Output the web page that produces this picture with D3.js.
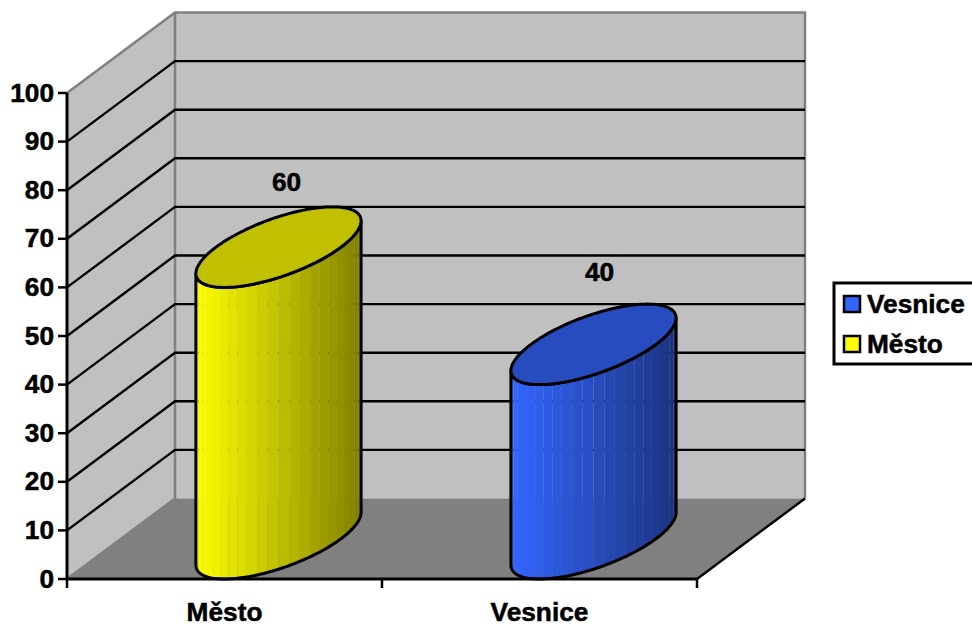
<!DOCTYPE html>
<html>
<head>
<meta charset="utf-8">
<script src="https://cdn.jsdelivr.net/npm/d3@7"></script>
<style>
  html, body { margin: 0; padding: 0; background: #fff; }
  svg { display: block; }
  text { font-family: "Liberation Sans", Arial, sans-serif; font-weight: bold; fill: #000; stroke: #000; stroke-width: 0.5px; }
</style>
</head>
<body>
<svg id="chart" width="972" height="625"></svg>
<script>
// Chart content
const categories = ["Město", "Vesnice"];
const values = [60, 40];
const legendOrder = ["Vesnice", "Město"];
const yTicks = [0, 10, 20, 30, 40, 50, 60, 70, 80, 90, 100];
const faceColors = { "Město": ["#ffff00", "#808000", "#c0c000"], "Vesnice": ["#3366ff", "#1a3380", "#264cbf"] };

const svg = d3.select("#chart");
const x = d3.scaleBand().domain(categories).range([67, 697]);
const y = d3.scaleLinear().domain([0, 100]).range([579, 93]);
// Oblique projection: the depth axis runs up and to the right.
const depth = { dx: 108, dy: -80.5 };
const barWidth = 125;
const textStretch = 1.05;
const fontSize = 25;
// Value labels sit a little differently above each cylinder
const labelShift = { "Město": [8, -16], "Vesnice": [6, -23] };

const path = d3.line();
const [x0, x1] = x.range();
const [y0, y1] = y.range();

function stretchedText(sel, px, py, anchor) {
  return sel.attr("text-anchor", anchor).attr("font-size", fontSize)
    .attr("transform", `translate(${px},${py}) scale(${textStretch},1)`);
}

// Walls and floor
svg.append("path").attr("fill", "#c0c0c0")
  .attr("d", path([[x0, y0], [x0, y1], [x0 + depth.dx, y1 + depth.dy], [x0 + depth.dx, y0 + depth.dy]]) + "Z");
svg.append("rect").attr("fill", "#c0c0c0")
  .attr("x", x0 + depth.dx).attr("y", y1 + depth.dy)
  .attr("width", x1 - x0).attr("height", y0 - y1);
svg.append("path").attr("fill", "#808080")
  .attr("d", path([[x0, y0], [x1, y0], [x1 + depth.dx, y0 + depth.dy], [x0 + depth.dx, y0 + depth.dy]]) + "Z");

// Grey wall edges
svg.append("path").attr("fill", "none").attr("stroke", "#808080").attr("stroke-width", 2.5)
  .attr("d", path([[x0, y1], [x0 + depth.dx, y1 + depth.dy], [x1 + depth.dx, y1 + depth.dy], [x1 + depth.dx, y0 + depth.dy]]));
svg.append("path").attr("fill", "none").attr("stroke", "#808080").attr("stroke-width", 2.5)
  .attr("d", path([[x0, y0], [x0 + depth.dx, y0 + depth.dy], [x0 + depth.dx, y1 + depth.dy]]));

// Gridlines across the side and back walls
svg.append("g").selectAll("path").data(yTicks.filter(t => t > 0 && t < 100)).join("path")
  .attr("fill", "none").attr("stroke", "#000").attr("stroke-width", 2.4)
  .attr("d", t => path([[x0, y(t)], [x0 + depth.dx, y(t) + depth.dy], [x1 + depth.dx, y(t) + depth.dy]]));

// Floor front-right edge
svg.append("path").attr("stroke", "#000").attr("stroke-width", 2.4)
  .attr("d", path([[x1, y0], [x1 + depth.dx, y0 + depth.dy]]));

// Cylinders: the body is a fan of shaded facets, capped by a flat ellipse
const facets = 24;
const tRight = Math.atan2(depth.dx, barWidth);

function ellipsePoint(cx, cy, t) {
  return [cx + barWidth / 2 * Math.cos(t) + depth.dx / 2 * Math.sin(t),
          cy + depth.dy / 2 * Math.sin(t)];
}

const bars = svg.append("g").selectAll("g").data(categories.map((c, i) => ({ c, v: values[i] }))).join("g");
bars.each(function (d) {
  const g = d3.select(this);
  const cx = x(d.c) + x.bandwidth() / 2 + depth.dx / 2;
  const base = y(0) + depth.dy / 2;
  const top = y(d.v) + depth.dy / 2;
  const [light, dark, cap] = faceColors[d.c];
  const reach = Math.hypot(barWidth, depth.dx) / 2;
  const shade = d3.scaleLinear().domain([cx - reach, cx + reach]).range([light, dark]);
  const ts = d3.range(facets + 1).map(i => tRight + Math.PI + Math.PI * i / facets);
  g.selectAll("path.facet").data(d3.range(facets)).join("path").attr("class", "facet")
    .attr("fill", i => shade((ellipsePoint(cx, 0, ts[i])[0] + ellipsePoint(cx, 0, ts[i + 1])[0]) / 2))
    .attr("d", i => path([
      ellipsePoint(cx, top, ts[i]), ellipsePoint(cx, top, ts[i + 1]),
      ellipsePoint(cx, base, ts[i + 1]), ellipsePoint(cx, base, ts[i])
    ]) + "Z");
  const fine = d3.range(121).map(i => tRight + Math.PI + Math.PI * i / 120);
  const outline = fine.map(t => ellipsePoint(cx, top, t))
    .concat(fine.slice().reverse().map(t => ellipsePoint(cx, base, t)));
  g.append("path").attr("fill", "none").attr("stroke", "#000").attr("stroke-width", 3)
    .attr("stroke-linejoin", "round").attr("d", path(outline) + "Z");
  const capPts = d3.range(120).map(i => ellipsePoint(cx, top, i * 2 * Math.PI / 120));
  g.append("path").attr("fill", cap).attr("stroke", "#000").attr("stroke-width", 3)
    .attr("d", path(capPts) + "Z");
  const [sx, sy] = labelShift[d.c];
  stretchedText(g.append("text").text(d.v), cx + sx, y(d.v) + depth.dy + sy, "middle");
});

// Axes
svg.append("path").attr("fill", "none").attr("stroke", "#000").attr("stroke-width", 3)
  .attr("d", path([[x0, y1], [x0, y0], [x1, y0]]));
svg.append("g").selectAll("line").data(yTicks).join("line")
  .attr("x1", x0 - 9).attr("x2", x0).attr("y1", y).attr("y2", y)
  .attr("stroke", "#000").attr("stroke-width", 2.5);
svg.append("g").selectAll("line").data([x0, x0 + x.bandwidth(), x1]).join("line")
  .attr("x1", d => d).attr("x2", d => d).attr("y1", y0).attr("y2", y0 + 9)
  .attr("stroke", "#000").attr("stroke-width", 2.5);
yTicks.forEach(t => {
  stretchedText(svg.append("text").text(t), x0 - 13, y(t) + 8.5, "end");
});
categories.forEach(c => {
  stretchedText(svg.append("text").text(c), x(c) + x.bandwidth() / 2, 621, "middle");
});

// Legend
const legendItems = d3.scaleOrdinal().domain(legendOrder).range([304, 344]);
svg.append("rect").attr("x", 834).attr("y", 283).attr("width", 150).attr("height", 81)
  .attr("fill", "#fff").attr("stroke", "#000").attr("stroke-width", 3);
legendOrder.forEach(name => {
  svg.append("rect").attr("x", 844).attr("y", legendItems(name) - 8).attr("width", 16).attr("height", 16)
    .attr("fill", faceColors[name][0]).attr("stroke", "#000").attr("stroke-width", 2.5);
  stretchedText(svg.append("text").text(name), 867, legendItems(name) + 8.5, "start");
});
</script>
</body>
</html>
